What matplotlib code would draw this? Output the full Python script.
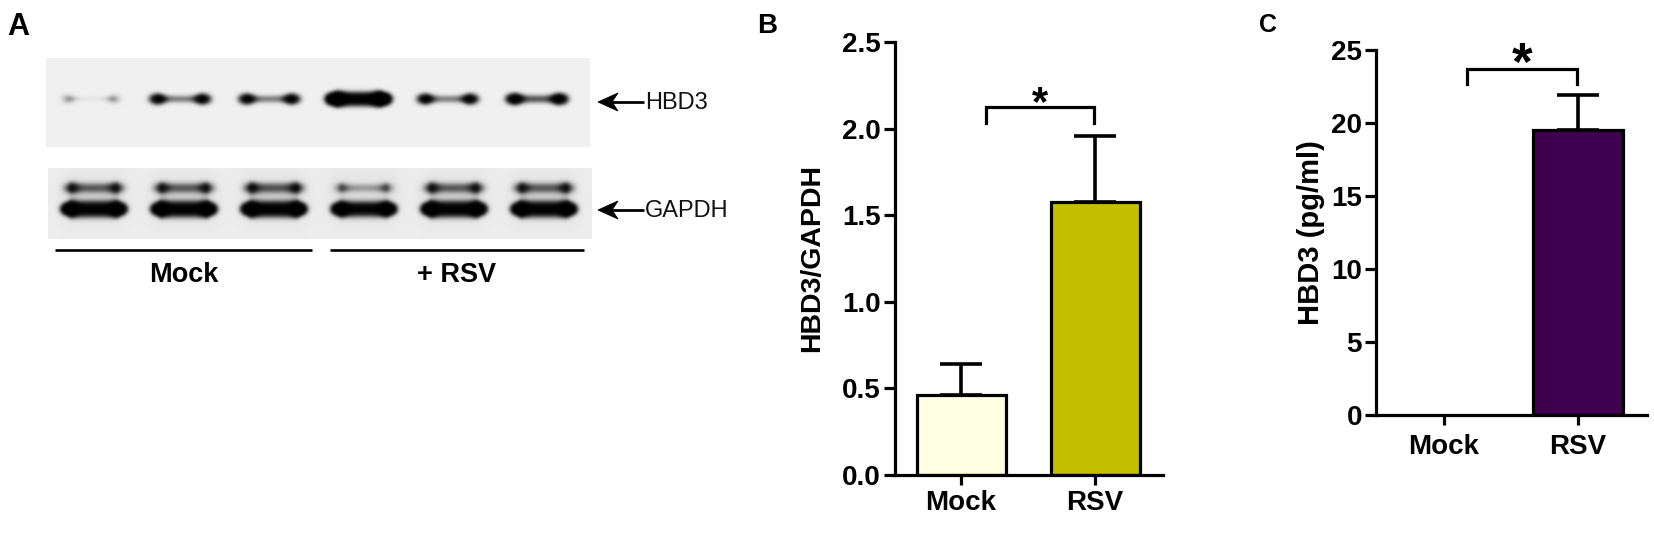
import numpy as np
import matplotlib
matplotlib.use("Agg")
import matplotlib.pyplot as plt
from matplotlib.patches import Polygon

# ---------------- data ----------------
blot_groups = ["Mock", "+ RSV"]
blot_targets = ["HBD3", "GAPDH"]
hbd3_signal = [0.3, 1.0, 1.0, 3.0, 1.0, 1.25]          # relative band intensity per lane
gapdh_upper_signal = [1.0, 1.0, 1.05, 0.65, 1.0, 1.0]
gapdh_lower_signal = [2.3, 2.3, 2.3, 2.1, 2.3, 2.3]

categories = ["Mock", "RSV"]
ratio_mean = [0.46, 1.575]
ratio_sem = [0.18, 0.38]
ratio_yticks = [0.0, 0.5, 1.0, 1.5, 2.0, 2.5]
elisa_mean = [0.0, 19.5]
elisa_sem = [0.0, 2.45]
elisa_yticks = [0, 5, 10, 15, 20, 25]

# ---------------- figure ----------------
W, H = 1654, 536
DPI = 100
fig = plt.figure(figsize=(W / DPI, H / DPI), dpi=DPI)
fig.patch.set_facecolor("white")
BOLD = dict(family="Liberation Sans", fontweight="bold")
REG = dict(family="Liberation Sans")

# overlay axes in pixel coordinates for panel A
axA = fig.add_axes([0, 0, 1, 1], zorder=0)
axA.set_xlim(0, W)
axA.set_ylim(H, 0)
axA.axis("off")


def blur(img, s):
    r = int(3 * s) + 1
    k = np.exp(-np.arange(-r, r + 1) ** 2 / (2 * s * s))
    k /= k.sum()
    pad = np.pad(img, r, mode="edge")
    tmp = np.apply_along_axis(lambda v: np.convolve(v, k, mode="valid"), 1, pad)
    return np.apply_along_axis(lambda v: np.convolve(v, k, mode="valid"), 0, tmp)


def blot_image(x0, x1, y0, y1, centers, width, bands, bg, halo=0.0, halo_y=None):
    xs = np.arange(x0, x1) + 0.5
    ys = np.arange(y0, y1) + 0.5
    X, Y = np.meshgrid(xs, ys)
    D = np.zeros_like(X)
    HL = np.zeros_like(X)
    for yc, sc, m, rx, ry, b, sigs in bands:
        for xc, a in zip(centers, sigs):
            half = width / 2 - rx
            core = 0.5 * (1 - np.tanh((np.abs(X - xc) - half) / 2.0))
            s = sc * a ** 0.4
            D += a * m * core * np.exp(-(Y - yc) ** 2 / (2 * s ** 2))
            for xe in (xc - half, xc + half):
                D += a * b * np.exp(-(X - xe) ** 2 / (2 * rx ** 2) - (Y - yc) ** 2 / (2 * ry ** 2))
    if halo and halo_y is not None:
        for xc in centers:
            u = np.abs(X - xc) / (width / 2 + 4)
            HL += 1.0 / (1.0 + u ** 8) * np.exp(-(Y - halo_y) ** 2 / (2 * 20 ** 2))
    base = bg - halo * HL
    img = base * np.exp(-(2.0 * D) ** 2)
    return blur(img, 1.3)


# top blot (HBD3)
top = (46, 590, 58, 147)
top_centers = np.linspace(91, 537, 6)
img_top = blot_image(*top, top_centers, 58,
                     [(99, 3.0, 0.42, 5.5, 3.8, 0.95, hbd3_signal)], bg=0.94)
axA.imshow(img_top, cmap="gray", vmin=0, vmax=1, extent=(top[0], top[1], top[3], top[2]),
           aspect="auto", interpolation="bilinear", zorder=1)

# bottom blot (GAPDH)
bot = (48, 592, 168, 239)
bot_centers = np.linspace(94, 544, 6)
img_bot = blot_image(*bot, bot_centers, 60,
                     [(188, 4.2, 0.5, 5.5, 4.2, 0.5, gapdh_upper_signal),
                      (209, 4.0, 0.5, 5.0, 4.0, 0.9, gapdh_lower_signal)],
                     bg=0.93, halo=0.05, halo_y=198)
axA.imshow(img_bot, cmap="gray", vmin=0, vmax=1, extent=(bot[0], bot[1], bot[3], bot[2]),
           aspect="auto", interpolation="bilinear", zorder=1)

# group lines and labels
for (xa, xb), name in zip([(55, 312), (330, 584)], blot_groups):
    axA.plot([xa, xb], [250, 250], color="black", lw=1.9, solid_capstyle="butt")
    axA.text((xa + xb) / 2, 282, name, ha="center", va="baseline", fontsize=19.5, **BOLD)


def left_arrow(x_tip, y, x_tail):
    axA.plot([x_tip + 12, x_tail], [y, y], color="black", lw=2.0, solid_capstyle="butt")
    head = Polygon([(x_tip, y), (x_tip + 20, y - 9), (x_tip + 14, y), (x_tip + 20, y + 9)],
                   closed=True, facecolor="black", edgecolor="black", lw=0.6)
    axA.add_patch(head)


for y, name in zip([102, 210], blot_targets):
    left_arrow(598, y, 644)
    axA.text(645, y + 1, name, ha="left", va="center", fontsize=17, color="#111111", **REG)

# panel letters
axA.text(7, 35, "A", ha="left", va="baseline", fontsize=22, **BOLD)
axA.text(757, 33, "B", ha="left", va="baseline", fontsize=20, **BOLD)
axA.text(1259, 32, "C", ha="left", va="baseline", fontsize=18, **BOLD)


# ---------------- bar panels ----------------
def px_axes(x_left, x_right, y_top, y_bottom):
    return fig.add_axes([x_left / W, (H - y_bottom) / H, (x_right - x_left) / W, (y_bottom - y_top) / H])


def style(ax):
    for s in ["top", "right"]:
        ax.spines[s].set_visible(False)
    for s in ["left", "bottom"]:
        ax.spines[s].set_linewidth(2.3)
    ax.tick_params(axis="y", length=8, width=2.3, pad=2, labelsize=20)
    ax.tick_params(axis="x", length=7.5, width=2.3, pad=3, labelsize=20)
    for lab in ax.get_xticklabels() + ax.get_yticklabels():
        lab.set_fontfamily("Liberation Sans")
        lab.set_fontweight("bold")
    ax.patch.set_alpha(0)


x = np.arange(len(categories))

# B
axB = px_axes(895, 1163, 42, 475)
axB.bar(x, ratio_mean, width=0.664, color=["#FFFFE3", "#C2C000"], edgecolor="black",
        linewidth=2.3, zorder=2)
axB.errorbar(x, ratio_mean, yerr=[np.zeros(len(x)), ratio_sem], fmt="none", ecolor="black",
             elinewidth=2.6, capsize=15, capthick=2.6, zorder=1)
axB.set_xlim(-0.4925, 1.507)
axB.set_ylim(0, 2.5)
axB.set_yticks(ratio_yticks)
axB.set_yticklabels([f"{v:.1f}" for v in ratio_yticks])
axB.set_xticks(x)
axB.set_xticklabels(categories)
style(axB)
axB.set_ylabel("HBD3/GAPDH", fontsize=20.5, **BOLD)
axB.yaxis.set_label_coords(-0.262, 0.5)
axB.plot([0.19, 0.19, 0.995, 0.995], [2.03, 2.125, 2.125, 2.03], color="black", lw=2.3,
         solid_joinstyle="miter", clip_on=False)
axB.text(0.59, 2.08, "*", ha="center", va="baseline", fontsize=30, clip_on=False, **BOLD)

# C
axC = px_axes(1376, 1647, 50, 415)
vis = [i for i, v in enumerate(elisa_mean) if v > 0]
axC.bar(x[vis], [elisa_mean[i] for i in vis], width=0.67, color="#3F004F", edgecolor="black",
        linewidth=2.3, zorder=2)
axC.errorbar(x[vis], [elisa_mean[i] for i in vis],
             yerr=[np.zeros(len(vis)), [elisa_sem[i] for i in vis]], fmt="none", ecolor="black",
             elinewidth=2.6, capsize=15, capthick=2.6, zorder=1)
axC.set_xlim(-0.507, 1.515)
axC.set_ylim(0, 25)
axC.set_yticks(elisa_yticks)
axC.set_xticks(x)
axC.set_xticklabels(categories)
style(axC)
axC.tick_params(axis="x", pad=6)
axC.set_ylabel("HBD3 (pg/ml)", fontsize=21, **BOLD)
axC.yaxis.set_label_coords(-0.19, 0.5)
axC.plot([0.17, 0.17, 0.99, 0.99], [22.7, 23.7, 23.7, 22.7], color="black", lw=2.3,
         solid_joinstyle="miter", clip_on=False)
axC.text(0.58, 22.95, "*", ha="center", va="baseline", fontsize=38, clip_on=False, **BOLD)

fig.savefig("out.png", dpi=DPI, facecolor="white")
